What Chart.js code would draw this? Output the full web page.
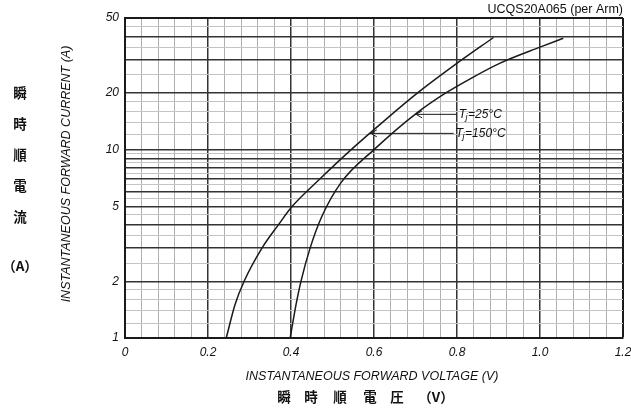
<!DOCTYPE html>
<html>
<head>
<meta charset="utf-8">
<script src="https://cdn.jsdelivr.net/npm/chart.js@4/dist/chart.umd.min.js"></script>
<style>
  html, body { margin: 0; padding: 0; background: #fff; }
  #wrap { width: 631px; height: 408px; }
</style>
</head>
<body>
<div id="wrap"><canvas id="c" width="631" height="408"></canvas></div>
<script>
// ---- data ----
const voltage25 = [0.244, 0.265, 0.287, 0.330, 0.370, 0.403, 0.470, 0.545, 0.621, 0.705, 0.793, 0.888];
const current25 = [1, 1.5, 2, 3, 4, 5, 7, 10, 14, 20, 28, 39.4];
const voltage150 = [0.398, 0.412, 0.424, 0.446, 0.474, 0.521, 0.600, 0.699, 0.773, 0.835, 0.904, 1.000, 1.056];
const current150 = [1, 1.5, 2, 3, 4.4, 6.7, 10, 15.4, 20, 24, 28.8, 35, 39];
const xTickLabels = [0, 0.2, 0.4, 0.6, 0.8, 1.0, 1.2];
const yTickLabels = [1, 2, 5, 10, 20, 50];
const chartTitle = 'UCQS20A065 (per Arm)';
const xTitle = 'INSTANTANEOUS FORWARD VOLTAGE (V)';
const yTitle = 'INSTANTANEOUS FORWARD CURRENT (A)';
const xTitleJa = ['瞬', '時', '順', '電', '圧', '（V）'];
const yTitleJa = ['瞬', '時', '順', '電', '流', '（A）'];
// curve labels: temperature text, arrow tip (voltage, current), label start voltage
const curveLabels = [
  { text: '=25°C', tipV: 0.699, tipI: 15.4, textV: 0.804 },
  { text: '=150°C', tipV: 0.590, tipI: 12.2, textV: 0.797 }
];

// grid values (log-paper style)
const xGrid = [];
for (let i = 0; i <= 30; i++) xGrid.push(Math.round(i * 4) / 100);
const yGrid = [];
function addRange(a, b, step) {
  for (let v = a; v < b - 1e-9; v += step) yGrid.push(Math.round(v * 100) / 100);
}
addRange(1, 2, 0.2); addRange(2, 5, 0.5); addRange(5, 10, 0.5);
addRange(10, 20, 2); addRange(20, 50, 5); yGrid.push(50);

const FONT = '"Liberation Sans", Arial, sans-serif';
const isMajorY = v => (Number.isInteger(v) && (v <= 10 || v % 10 === 0));
const isMajorX = i => i % 5 === 0;

const textPlugin = {
  id: 'texts',
  afterDraw(chart) {
    const ctx = chart.ctx;
    const xs = chart.scales.x, ys = chart.scales.y;
    const ca = chart.chartArea;
    ctx.save();
    ctx.fillStyle = '#111';
    // title
    ctx.font = '12.5px ' + FONT;
    ctx.textAlign = 'right';
    ctx.textBaseline = 'middle';
    ctx.fillText(chartTitle, 623, 10);
    // x title
    ctx.font = 'italic 12.5px ' + FONT;
    ctx.textAlign = 'center';
    ctx.fillText(xTitle, (ca.left + ca.right) / 2 - 2, 377);
    // y title
    ctx.save();
    ctx.translate(67, (ca.top + ca.bottom) / 2 - 4);
    ctx.rotate(-Math.PI / 2);
    ctx.fillText(yTitle, 0, 0);
    ctx.restore();
    // japanese bottom
    ctx.font = 'bold 13.5px "Noto Sans CJK JP", sans-serif';
    const jx = [284, 311, 340, 370, 397, 436];
    xTitleJa.forEach((t, i) => ctx.fillText(t, jx[i], 397));
    // japanese left
    const jy = [93, 124, 155, 186, 217, 266];
    yTitleJa.forEach((t, i) => ctx.fillText(t, 20, jy[i]));
    // curve labels with arrows
    ctx.strokeStyle = '#1a1a1a';
    ctx.lineWidth = 1;
    curveLabels.forEach(l => {
      const tx = xs.getPixelForValue(l.tipV), ty = ys.getPixelForValue(l.tipI);
      const sx = xs.getPixelForValue(l.textV);
      ctx.beginPath();
      ctx.moveTo(tx, ty); ctx.lineTo(sx - 2, ty);
      ctx.moveTo(tx + 7, ty - 3.5); ctx.lineTo(tx + 1, ty); ctx.lineTo(tx + 7, ty + 3.5);
      ctx.stroke();
      ctx.textAlign = 'left';
      ctx.font = 'italic 12px ' + FONT;
      ctx.fillText('T', sx, ty);
      let w = ctx.measureText('T').width;
      ctx.font = 'italic 9px ' + FONT;
      ctx.fillText('j', sx + w - 0.5, ty + 3);
      w += ctx.measureText('j').width;
      ctx.font = 'italic 12px ' + FONT;
      ctx.fillText(l.text, sx + w, ty);
    });
    ctx.restore();
  }
};

const toPts = (xv, yv) => xv.map((x, i) => ({ x: x, y: yv[i] }));

new Chart(document.getElementById('c'), {
  type: 'scatter',
  data: {
    datasets: [
      { label: 'Tj=25°C', data: toPts(voltage25, current25), showLine: true,
        borderColor: '#1a1a1a', borderWidth: 1.5, pointRadius: 0, cubicInterpolationMode: 'monotone' },
      { label: 'Tj=150°C', data: toPts(voltage150, current150), showLine: true,
        borderColor: '#1a1a1a', borderWidth: 1.5, pointRadius: 0, cubicInterpolationMode: 'monotone' }
    ]
  },
  options: {
    responsive: false,
    animation: false,
    devicePixelRatio: 1,
    layout: { padding: { left: 85, right: 8, top: 18, bottom: 0 } },
    plugins: { legend: { display: false }, tooltip: { enabled: false } },
    scales: {
      x: {
        type: 'linear', min: 0, max: 1.2,
        afterBuildTicks: s => { s.ticks = xGrid.map(v => ({ value: v })); },
        afterFit: s => { s.height = 70; s.paddingLeft = 0; s.paddingRight = 0; },
        ticks: {
          autoSkip: false, maxRotation: 0, padding: 7, color: '#111',
          font: { family: FONT, size: 12, style: 'italic' },
          callback: (v, i) => {
            const hit = xTickLabels.find(t => Math.abs(t - v) < 1e-6);
            if (hit === undefined) return '';
            return hit === 0 ? '0' : hit.toFixed(1);
          }
        },
        grid: {
          drawTicks: false,
          color: c => (c.index === 0 || c.index === xGrid.length - 1) ? '#1a1a1a' : (isMajorX(c.index) ? '#333' : '#b0b0b0'),
          lineWidth: c => (c.index === xGrid.length - 1) ? 2 : (isMajorX(c.index) ? 1.5 : 1)
        },
        border: { display: true, color: '#1a1a1a', width: 2 }
      },
      y: {
        type: 'logarithmic', min: 1, max: 50,
        afterBuildTicks: s => { s.ticks = yGrid.map(v => ({ value: v })); },
        afterFit: s => { s.width = 40; s.paddingTop = 0; s.paddingBottom = 0; },
        ticks: {
          autoSkip: false, padding: 6, color: '#111',
          font: { family: FONT, size: 12, style: 'italic' },
          callback: v => yTickLabels.includes(v) ? String(v) : ''
        },
        grid: {
          drawTicks: false,
          color: c => (c.tick && c.tick.value === 50) ? '#1a1a1a' : (c.tick && isMajorY(c.tick.value) ? '#333' : '#c4c4c4'),
          lineWidth: c => (c.tick && c.tick.value === 50) ? 2 : (c.tick && isMajorY(c.tick.value) ? 1.5 : 1)
        },
        border: { display: true, color: '#1a1a1a', width: 2 }
      }
    }
  },
  plugins: [textPlugin]
});
</script>
</body>
</html>
